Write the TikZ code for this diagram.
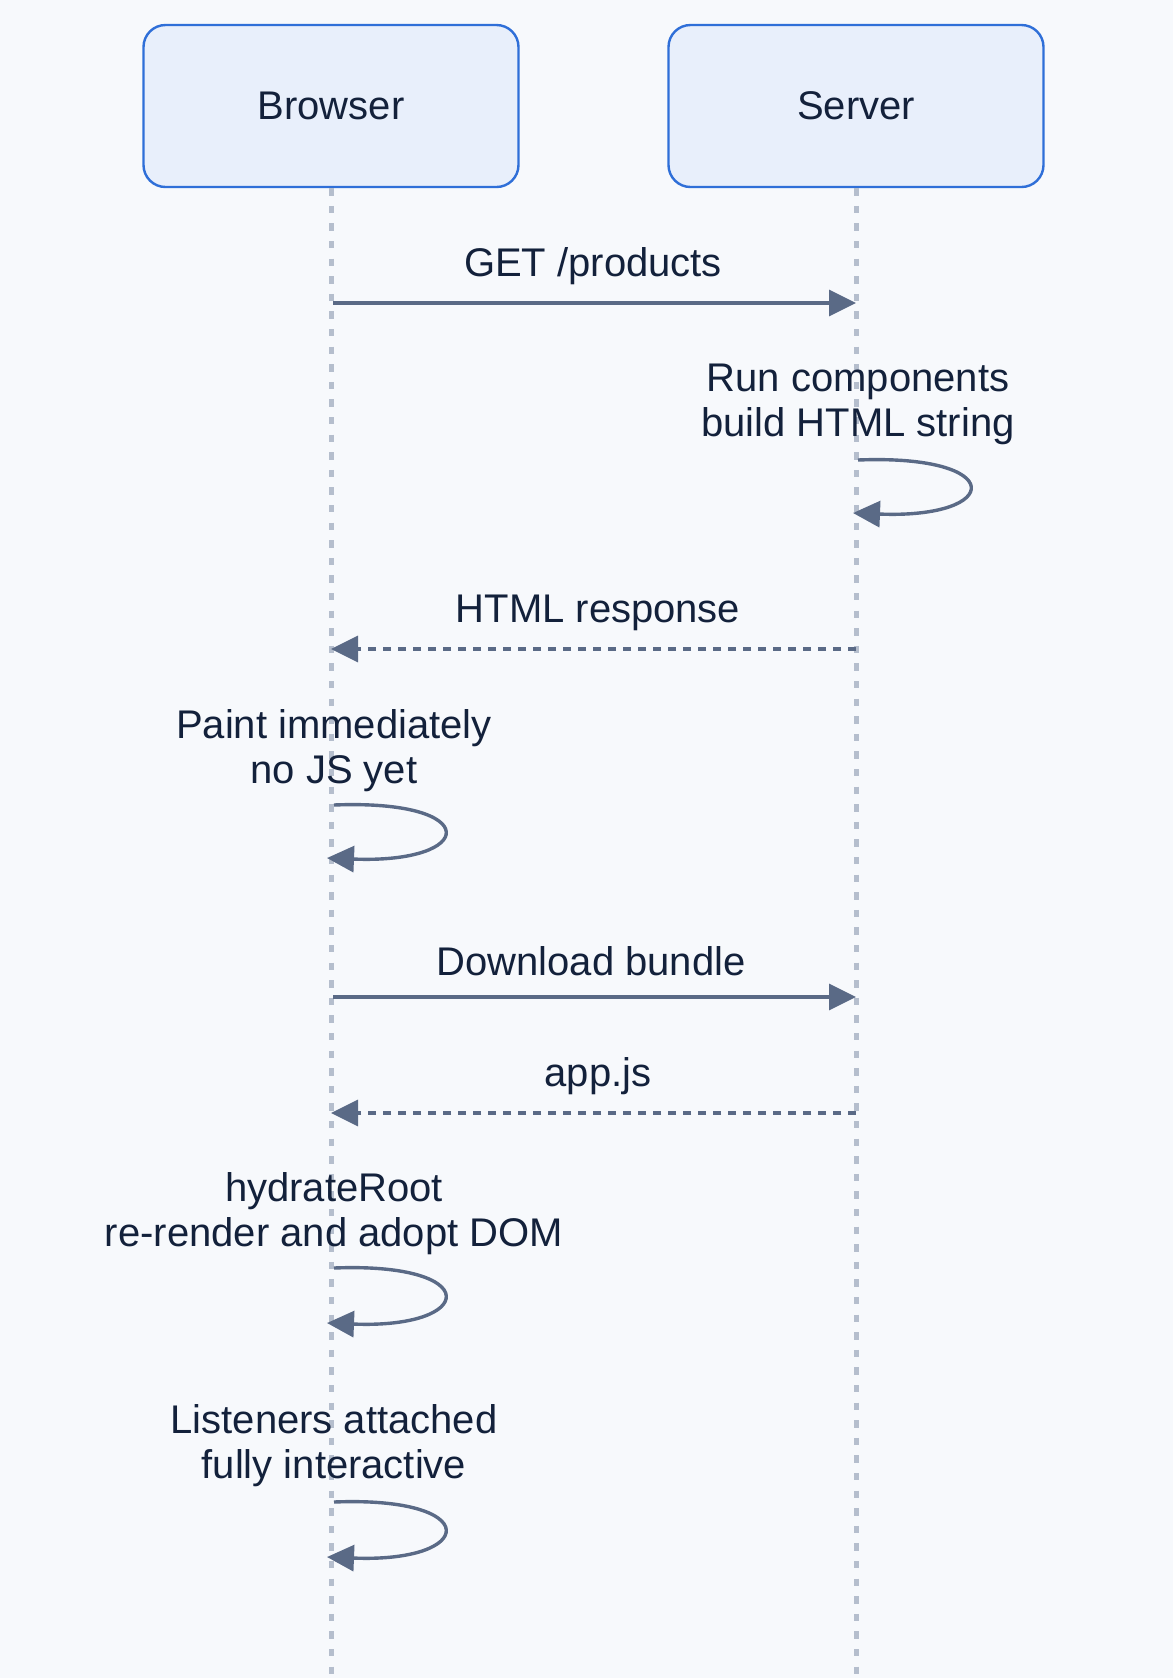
\documentclass[tikz,border=0pt]{standalone}
\usepackage{fontspec}
\setmainfont{Liberation Sans}
\usetikzlibrary{arrows.meta}
\definecolor{bg}{HTML}{F7F9FC}
\definecolor{actorfill}{HTML}{E8EFFB}
\definecolor{actorline}{HTML}{2F6FD8}
\definecolor{msgline}{HTML}{5A6A86}
\definecolor{lifecol}{HTML}{B5BECD}
\definecolor{ink}{HTML}{13213B}
\tikzset{
  actor/.style={draw=actorline, fill=actorfill, line width=1.2pt, rounded corners=11pt,
    minimum width=187.5pt, minimum height=81pt, text=ink, font=\fontsize{20}{22.5}\selectfont},
  life/.style={draw=lifecol, line width=2.5pt, dash pattern=on 3.7pt off 5.1pt},
  msg/.style={draw=msgline, line width=1.7pt, -{Triangle[length=13.5pt,width=13pt]}},
  reply/.style={msg, dash pattern=on 4pt off 3.5pt},
  msgtext/.style={text=ink, align=center, font=\fontsize{20}{22.5}\selectfont}
}
\begin{document}
\begin{tikzpicture}[x=0.5pt,y=-0.5pt]
\fill[bg] (0,0) rectangle (1173,1678);
\useasboundingbox (0,0) rectangle (1173,1678);
\node[actor] (browser) at (331,106) {Browser};
\node[actor] (server) at (856,106) {Server};
\foreach \a in {browser,server}
\draw[life] (\a.south) -- ++(0,1500);

\coordinate (b1) at (333,303);
\coordinate (s1) at (856,303);
\node[msgtext] (get) at (593,266) {GET /products};
\draw[msg] (b1) -- (s1);

\coordinate (s2) at (858,460);
\coordinate (s2e) at (853,513);
\node[msgtext] (run) at (858,404) {Run components\\build HTML string};
\draw[msg] (s2) .. controls +(150,-6) and +(150,6) .. (s2e);

\coordinate (s3) at (856,649);
\coordinate (b3) at (331,649);
\node[msgtext] (html) at (598,613) {HTML response};
\draw[reply] (s3) -- (b3);

\coordinate (b4) at (334,805);
\coordinate (b4e) at (327,858);
\node[msgtext] (paint) at (334,751) {Paint immediately\\no JS yet};
\draw[msg] (b4) .. controls +(150,-6) and +(150,6) .. (b4e);

\coordinate (b5) at (333,997);
\coordinate (s5) at (856,997);
\node[msgtext] (dl) at (591,961) {Download bundle};
\draw[msg] (b5) -- (s5);

\coordinate (s6) at (856,1113);
\coordinate (b6) at (331,1113);
\node[msgtext] (appjs) at (598,1076) {app.js};
\draw[reply] (s6) -- (b6);

\coordinate (b7) at (334,1268);
\coordinate (b7e) at (327,1323);
\node[msgtext] (hydrate) at (334,1214) {hydrateRoot\\re-render and adopt DOM};
\draw[msg] (b7) .. controls +(150,-6) and +(150,6) .. (b7e);

\coordinate (b8) at (334,1502);
\coordinate (b8e) at (327,1557);
\node[msgtext] (listen) at (334,1446) {Listeners attached\\fully interactive};
\draw[msg] (b8) .. controls +(150,-6) and +(150,6) .. (b8e);
\end{tikzpicture}
\end{document}
